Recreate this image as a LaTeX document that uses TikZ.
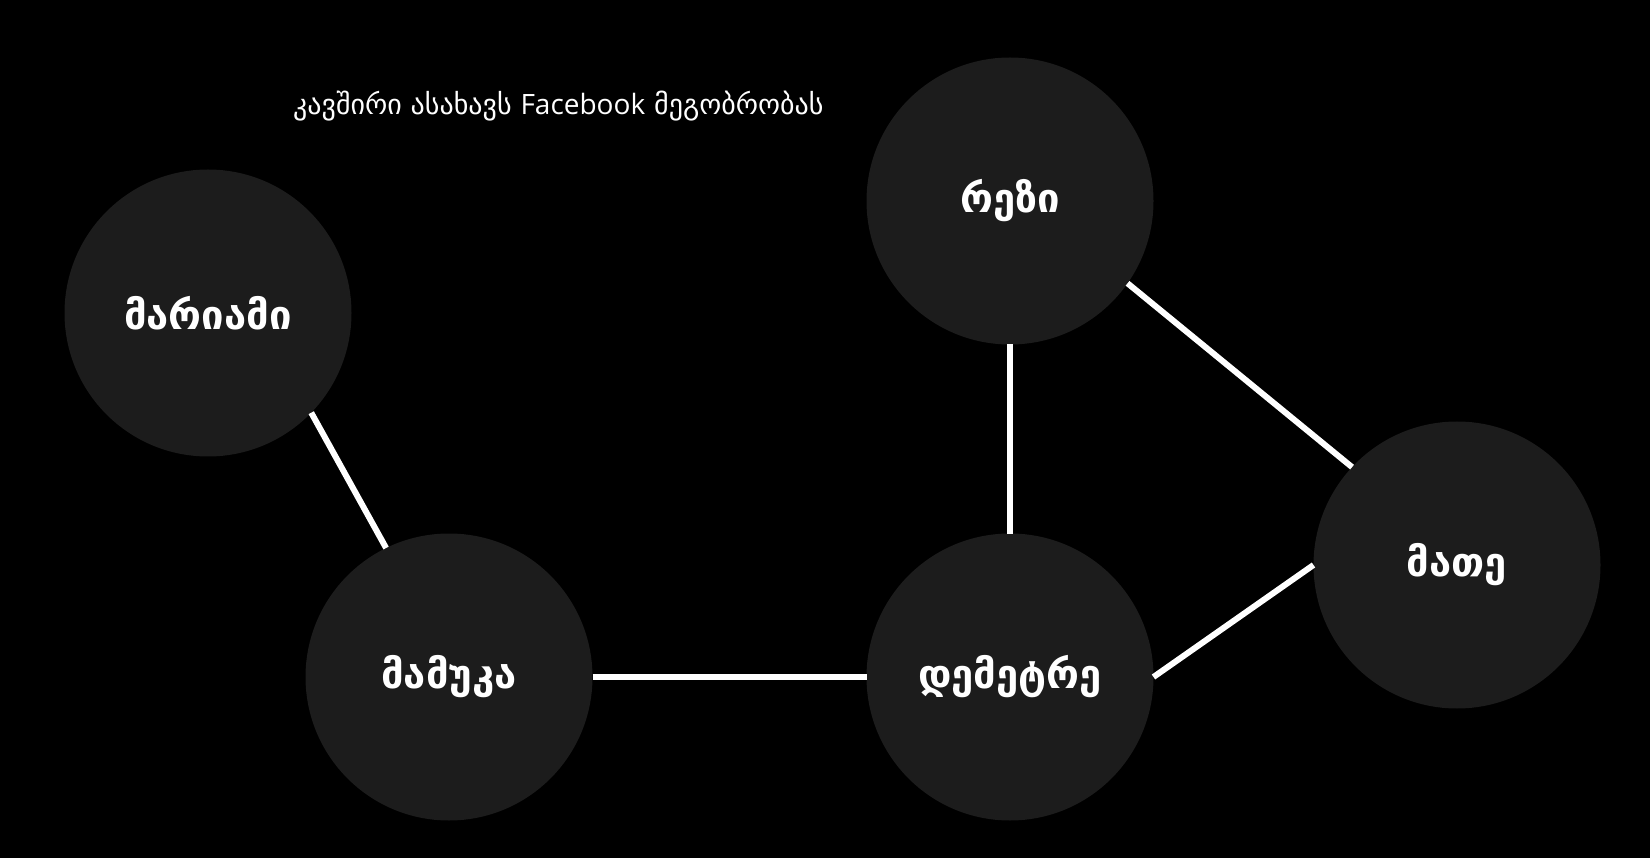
\documentclass[tikz,border=0pt]{standalone}
\usepackage{fontspec}
\setmainfont{DejaVu Sans}
\newfontfamily\opensans{Open Sans}
\definecolor{nodefill}{HTML}{1C1C1C}
\begin{document}
\begin{tikzpicture}[x=1pt,y=-1pt,
  person/.style={circle, fill=nodefill, draw=none, minimum size=287pt, inner sep=0pt, outer sep=0pt,
    text=white, font=\bfseries\fontsize{40}{46}\selectfont},
  link/.style={draw=white, line width=6pt}]
\fill[black] (0,0) rectangle (1650,858);
\useasboundingbox (0,0) rectangle (1650,858);
\node[anchor=west, text=white, font=\fontsize{28}{32}\selectfont, inner sep=0pt] (title) at (293,106) {კავშირი ასახავს {\opensans Facebook} მეგობრობას};
\node[person] (mariami) at (208,313) {მარიამი};
\node[person] (rezi) at (1010,201) {რეზი};
\node[person] (mamuka) at (449,677) {მამუკა};
\node[person] (demetre) at (1010,677) {დემეტრე};
\node[person] (mate) at (1457,565) {მათე};
\draw[link] (mariami.-44) -- (mamuka.116);
\draw[link] (mamuka.east) -- (demetre.west);
\draw[link] (rezi.south) -- (demetre.north);
\draw[link] (rezi.-35) -- (mate.137);
\draw[link] (demetre.east) -- (mate.west);
\end{tikzpicture}
\end{document}
